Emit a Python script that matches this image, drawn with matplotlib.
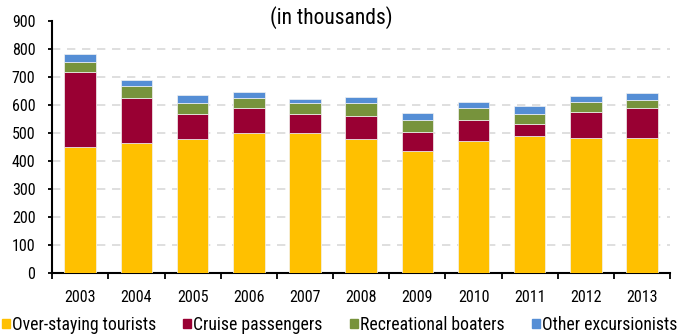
import numpy as np
import matplotlib
matplotlib.use("Agg")
import matplotlib.pyplot as plt
from matplotlib.patches import Patch

plt.rcParams['font.family'] = ['Roboto Condensed', 'DejaVu Sans']

years = ["2003", "2004", "2005", "2006", "2007", "2008",
         "2009", "2010", "2011", "2012", "2013"]
over_staying = [449, 463, 477, 499, 499, 477, 435, 470, 490, 484, 484]
cruise       = [269, 163,  92,  91,  70,  84,  69,  77,  43,  92, 106]
recreational = [ 36,  42,  37,  36,  37,  45,  43,  43,  36,  35,  28]
other_exc    = [ 28,  22,  28,  21,  14,  21,  23,  21,  28,  22,  23]

series = [
    ("Over-staying tourists", over_staying, "#FFC000"),
    ("Cruise passengers",     cruise,       "#990033"),
    ("Recreational boaters",  recreational, "#77933C"),
    ("Other excursionists",   other_exc,    "#558ED5"),
]

fig = plt.figure(figsize=(6.77, 3.35), dpi=100)
ax = fig.add_axes([0.077, 0.184, 0.913, 0.754])

x = np.arange(len(years))
bottom = np.zeros(len(years))
for name, vals, col in series:
    vals = np.array(vals, dtype=float)
    ax.bar(x, vals, 0.56, bottom=bottom, color=col, edgecolor="#F2F2F2",
           linewidth=0.5, zorder=3, label=name)
    bottom += vals

ax.set_xlim(-0.5, len(years) - 0.5)
ax.set_ylim(0, 900)
ax.set_yticks(np.arange(0, 901, 100))
ax.set_xticks(x)
ax.set_xticklabels(years, fontsize=11.5)
ax.set_xticks(np.arange(-0.5, len(years), 1.0), minor=True)
ax.tick_params(axis="x", which="major", length=0, pad=12)
ax.tick_params(axis="x", which="minor", length=4, width=1.3, direction="out")
ax.tick_params(axis="y", length=3, width=1.3, pad=9, labelsize=11.5)

for v in range(100, 900, 100):
    ax.axhline(v, color="#D9D9D9", lw=1.2, ls=(0, (5, 4)), zorder=1)

for sp in ["top", "right"]:
    ax.spines[sp].set_visible(False)
for sp in ["left", "bottom"]:
    ax.spines[sp].set_linewidth(1.5)

fig.text(0.49, 0.949, "(in thousands)", ha="center", va="center", fontsize=15.5)

handles = [Patch(color=c, label=n) for n, _, c in series]
fig.legend(handles=handles, loc="lower center", bbox_to_anchor=(0.5015, -0.012),
           ncol=4, frameon=False, fontsize=12.7, handlelength=0.45,
           handleheight=0.45, handletextpad=0.12, columnspacing=1.55,
           borderaxespad=0.1, borderpad=0.2)

fig.savefig("out.png", dpi=100)
